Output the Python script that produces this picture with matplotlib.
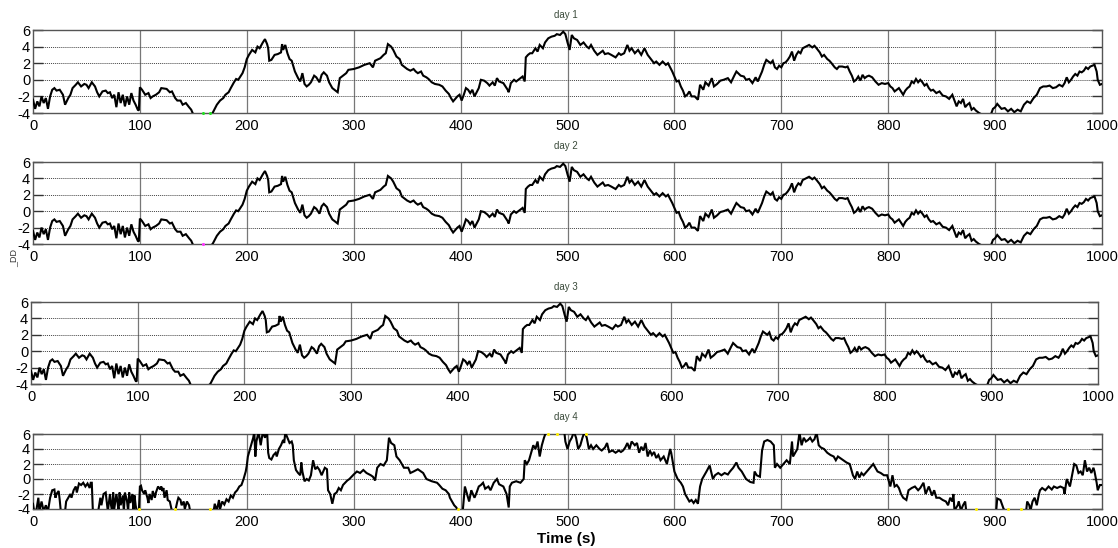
import numpy as np
import matplotlib
matplotlib.use("Agg")
import matplotlib.pyplot as plt

plt.rcParams['font.family'] = ['Liberation Sans', 'DejaVu Sans']

# ---------------- data ----------------
# days 1-3 share (visually) the same trace
t_day1 = [0, 2, 4, 6, 8, 10, 12, 14, 16, 18, 20, 22, 25, 28, 30, 33, 35, 37, 40, 42, 45, 48, 50, 52, 55, 58,
          60, 62, 65, 68, 70, 72, 74, 76, 78, 80, 82, 84, 86, 88, 90, 92, 94, 96, 98, 99, 100, 102, 105, 108,
          110, 112, 115, 118, 120, 125, 128, 130, 133, 135, 138, 140, 143, 146, 148, 150, 155, 160, 165, 168,
          170, 172, 175, 178, 180, 183, 185, 188, 190, 192, 194, 196, 198, 200, 202, 205, 208, 210, 212, 215,
          217, 219, 220, 221, 223, 226, 229, 232, 233, 234, 236, 238, 240, 242, 245, 248, 250, 252, 254, 256,
          258, 260, 263, 265, 268, 270, 272, 275, 277, 280, 283, 285, 287, 290, 293, 295, 300, 305, 310, 315,
          318, 320, 325, 328, 330, 332, 335, 337, 340, 343, 345, 348, 350, 353, 356, 358, 360, 363, 365, 368,
          370, 373, 376, 380, 383, 386, 389, 391, 393, 395, 397, 399, 401, 403, 405, 407, 409, 411, 413, 415,
          417, 419, 422, 425, 427, 430, 432, 434, 436, 440, 442, 444, 445, 447, 450, 452, 455, 458, 460, 461,
          463, 465, 467, 470, 472, 474, 477, 479, 482, 485, 488, 490, 493, 496, 498, 500, 502, 504, 506, 509,
          512, 515, 518, 520, 522, 525, 528, 530, 533, 535, 538, 541, 545, 548, 550, 553, 556, 558, 560, 563,
          566, 569, 572, 575, 578, 581, 583, 586, 589, 592, 594, 596, 598, 600, 602, 604, 606, 608, 610, 612,
          614, 616, 619, 622, 624, 627, 629, 632, 635, 637, 640, 643, 646, 650, 653, 656, 658, 662, 665, 667,
          670, 673, 676, 678, 680, 682, 684, 686, 688, 690, 692, 694, 696, 698, 700, 702, 704, 706, 708, 710,
          712, 714, 716, 718, 720, 723, 726, 729, 731, 733, 736, 738, 740, 743, 745, 747, 750, 752, 754, 757,
          760, 762, 764, 766, 768, 770, 772, 774, 776, 778, 780, 782, 785, 788, 791, 794, 797, 800, 802, 804,
          806, 808, 810, 812, 814, 816, 818, 820, 822, 824, 826, 828, 830, 832, 834, 836, 838, 840, 842, 845,
          848, 851, 854, 857, 860, 862, 864, 866, 868, 870, 872, 874, 876, 878, 880, 882, 885, 888, 890, 893,
          896, 898, 900, 902, 904, 906, 909, 912, 915, 918, 921, 924, 927, 930, 933, 936, 939, 942, 945, 948,
          951, 954, 957, 960, 963, 965, 967, 969, 971, 973, 975, 977, 979, 981, 983, 985, 987, 989, 991, 993,
          995, 996, 998, 1000]
v_day1 = [-2.4, -3.5, -2.6, -3.2, -2.0, -2.8, -2.2, -3.5, -2.0, -1.2, -1.0, -1.3, -1.2, -1.8, -3.0, -2.2, -1.8,
          -1.0, -0.6, -0.3, -0.8, -0.5, -0.6, -1.0, -0.3, -0.8, -1.5, -2.0, -1.4, -1.3, -1.6, -1.5, -2.2, -1.8,
          -3.3, -1.5, -2.8, -1.8, -3.2, -2.0, -3.0, -1.6, -2.5, -3.0, -3.6, -3.7, -0.9, -1.2, -1.8, -1.6, -2.2,
          -2.0, -1.8, -1.5, -1.0, -1.1, -1.5, -1.4, -2.2, -2.5, -2.5, -3.0, -2.8, -3.3, -3.6, -4.2, -4.6, -4.5,
          -4.3, -4.0, -3.5, -3.0, -2.5, -2.2, -1.8, -1.5, -1.0, -0.3, 0.1, 0.0, 0.4, 0.8, 1.5, 2.5, 3.0, 3.6,
          3.3, 4.0, 3.8, 4.5, 4.9, 4.3, 3.8, 2.3, 2.4, 3.0, 3.1, 3.3, 4.3, 3.6, 4.2, 3.2, 2.5, 2.3, 1.0, 0.2,
          -0.2, 0.8, -0.5, -0.8, -0.6, -0.3, 0.5, 0.3, -0.3, 0.6, 0.9, 0.5, -0.3, -1.0, -1.3, -1.5, 0.2, 0.5,
          0.8, 1.2, 1.3, 1.5, 1.8, 2.0, 1.5, 2.3, 2.6, 3.0, 3.2, 4.3, 4.0, 3.6, 2.8, 2.5, 1.8, 1.5, 1.3, 1.1,
          1.3, 1.0, 0.8, 1.0, 0.5, 0.3, 0.1, -0.3, -0.5, -0.6, -0.8, -1.3, -1.7, -2.2, -2.6, -2.3, -2.0, -1.8,
          -2.5, -1.8, -1.0, -1.2, -1.6, -1.2, -2.0, -1.5, -1.0, 0.0, -0.1, -0.4, -0.7, -0.3, -0.7, 0.2, -0.2,
          -0.4, -0.8, -1.2, -1.5, -0.4, 0.0, -0.2, 0.1, 0.4, -0.2, 2.7, 3.0, 3.2, 3.2, 3.8, 3.4, 4.2, 3.8, 4.5,
          5.0, 5.2, 5.3, 5.5, 5.4, 5.8, 5.5, 4.5, 3.6, 5.4, 5.0, 4.8, 4.2, 4.5, 4.0, 3.8, 4.2, 3.5, 3.0, 3.2,
          3.5, 3.1, 3.2, 3.0, 2.7, 3.2, 3.0, 3.2, 4.2, 3.5, 3.8, 3.2, 3.6, 3.0, 3.8, 3.0, 2.5, 2.0, 2.2, 1.8,
          2.2, 1.8, 2.0, 1.5, 1.0, 0.4, -0.2, -0.1, -0.8, -1.3, -2.0, -1.8, -1.4, -2.0, -2.0, -2.4, -0.6, -1.2,
          -0.3, -0.7, 0.2, -0.8, -0.5, -0.1, 0.0, 0.2, -0.3, 0.5, 1.0, 0.5, 0.4, 0.0, 0.1, -0.4, 0.3, -0.2,
          0.4, 1.0, 1.8, 2.4, 2.2, 2.0, 2.3, 1.5, 1.3, 1.7, 1.5, 2.0, 2.1, 2.4, 2.8, 3.4, 2.3, 3.0, 3.4, 3.2,
          3.8, 4.0, 4.2, 3.9, 4.1, 3.8, 3.3, 2.8, 3.0, 2.5, 2.3, 2.0, 1.5, 1.3, 1.6, 1.6, 1.5, 1.6, 1.0, 0.5,
          -0.2, 0.0, 0.4, -0.1, 0.6, 0.2, 0.4, 0.5, 0.3, -0.2, -0.6, -0.4, -0.5, -0.4, -0.8, -1.0, -1.4, -1.2,
          -1.0, -1.4, -1.8, -1.3, -1.0, -0.8, -0.2, -0.4, 0.1, -0.3, 0.0, -0.3, -0.7, -0.5, -1.0, -1.3, -1.2,
          -1.6, -1.4, -1.9, -2.0, -2.3, -1.8, -2.5, -3.2, -2.6, -2.8, -2.3, -3.3, -3.0, -2.8, -3.6, -3.4, -3.7,
          -4.0, -4.2, -4.5, -4.5, -4.2, -3.5, -3.3, -2.9, -3.2, -3.5, -3.4, -3.8, -3.5, -3.9, -3.6, -3.8, -3.0,
          -2.6, -2.8, -2.2, -1.8, -1.0, -0.8, -0.8, -0.7, -1.0, -0.9, -0.6, -0.8, -0.4, 0.3, -0.3, 0.0, 0.4,
          0.7, 0.5, 1.0, 0.9, 1.1, 1.5, 1.3, 1.6, 1.7, 1.8, 1.0, 0.0, -0.6, -0.5]

t_day4 = [0, 1, 3, 5, 6, 8, 10, 12, 14, 16, 18, 20, 21, 22, 24, 25, 26, 30, 31, 33, 35, 36, 38, 40, 41, 43,
          45, 47, 49, 51, 53, 54, 55, 56, 61, 63, 64, 66, 68, 69, 70, 72, 73, 74, 75, 76, 78, 79, 80, 81, 82,
          84, 85, 86, 88, 89, 90, 91, 93, 94, 95, 96, 97, 99, 100, 101, 102, 104, 105, 107, 108, 109, 111, 112,
          114, 115, 117, 119, 120, 121, 122, 123, 125, 126, 128, 130, 133, 135, 136, 138, 139, 141, 142, 144,
          146, 147, 169, 170, 172, 174, 175, 177, 179, 181, 183, 185, 187, 189, 191, 193, 195, 197, 199, 200,
          201, 203, 205, 206, 207, 208, 209, 211, 213, 215, 217, 219, 220, 221, 223, 225, 227, 228, 230, 232,
          234, 235, 236, 238, 240, 242, 243, 244, 246, 248, 250, 251, 252, 254, 256, 258, 260, 262, 264, 266,
          268, 270, 273, 275, 276, 278, 280, 282, 284, 286, 288, 290, 292, 294, 296, 298, 300, 303, 306, 309,
          312, 316, 318, 320, 322, 325, 328, 331, 333, 335, 338, 340, 343, 345, 347, 351, 353, 356, 360, 365,
          368, 373, 378, 380, 383, 386, 389, 390, 392, 394, 396, 398, 402, 404, 406, 408, 410, 413, 415, 417,
          419, 421, 423, 426, 428, 431, 434, 436, 440, 443, 445, 446, 448, 452, 456, 459, 460, 462, 464, 466,
          468, 470, 472, 474, 476, 478, 480, 497, 498, 500, 502, 504, 506, 508, 510, 512, 514, 516, 518, 520,
          522, 524, 527, 530, 532, 535, 537, 539, 542, 545, 548, 550, 552, 554, 556, 558, 560, 563, 565, 567,
          569, 571, 573, 575, 577, 579, 581, 583, 585, 587, 590, 593, 596, 597, 600, 603, 606, 608, 610, 612,
          614, 616, 618, 620, 622, 624, 626, 628, 630, 633, 636, 638, 641, 644, 647, 650, 652, 655, 658, 660,
          663, 665, 667, 669, 671, 674, 675, 677, 680, 682, 684, 687, 690, 693, 694, 696, 699, 702, 705, 708,
          710, 711, 713, 715, 717, 719, 721, 723, 725, 727, 729, 731, 733, 735, 737, 740, 743, 746, 749, 751,
          753, 755, 758, 761, 764, 767, 769, 771, 773, 775, 777, 780, 783, 786, 788, 790, 793, 796, 799, 800,
          802, 804, 806, 808, 810, 812, 814, 817, 819, 822, 825, 828, 830, 833, 835, 838, 841, 843, 845, 848,
          851, 854, 856, 858, 860, 861, 862, 865, 866, 868, 870, 872, 873, 901, 902, 905, 908, 910, 929, 930,
          932, 933, 935, 937, 939, 941, 942, 944, 947, 950, 953, 955, 958, 961, 964, 965, 967, 970, 972, 974,
          976, 978, 980, 982, 984, 986, 988, 990, 992, 993, 995, 996, 998, 1000]
v_day4 = [-3.3, -4.3, -4.3, -2.5, -4.3, -3.0, -4.3, -3.5, -4.3, -2.5, -1.5, -1.4, -2.5, -2.0, -1.6, -2.8, -4.3,
          -4.3, -3.0, -2.5, -2.0, -2.5, -1.5, -1.0, -1.8, -0.6, -0.8, -0.5, -1.0, -0.6, -1.2, -0.5, -0.5, -4.3,
          -4.3, -2.5, -3.5, -2.0, -1.8, -3.0, -4.3, -2.0, -3.5, -4.3, -1.8, -4.0, -2.0, -3.0, -4.3, -1.8, -3.5,
          -2.2, -4.3, -1.8, -3.0, -4.3, -1.8, -3.2, -2.0, -4.3, -2.2, -3.5, -4.3, -4.3, -1.0, -0.9, -1.5, -2.0,
          -1.5, -2.5, -3.2, -2.0, -2.8, -1.6, -2.5, -1.8, -1.0, -1.4, -1.0, -1.6, -1.2, -2.5, -1.5, -2.8, -3.0,
          -4.3, -4.3, -3.0, -2.5, -2.8, -3.5, -3.0, -4.0, -3.0, -3.5, -4.3, -4.3, -3.3, -4.2, -2.8, -4.0, -3.0,
          -3.4, -2.7, -3.0, -2.2, -2.5, -1.8, -1.5, -1.0, -0.8, 0.0, 1.0, 1.8, 3.0, 4.0, 5.0, 5.5, 6.3, 3.0,
          5.0, 6.3, 4.5, 6.3, 5.5, 6.3, 3.5, 2.8, 2.6, 3.2, 3.5, 3.0, 4.0, 4.5, 5.2, 4.8, 6.2, 5.5, 4.8, 5.0,
          4.5, 2.5, 1.2, 0.8, 0.5, 2.2, 1.0, -0.3, 0.0, -0.2, 0.5, 2.5, 1.3, 1.6, 1.2, 0.5, 1.5, 1.3, -1.5,
          -2.0, -3.3, -2.0, -1.8, -1.2, -1.5, -0.8, -0.5, -0.2, 0.0, 0.3, 0.6, 1.0, 0.8, 1.2, 0.8, 0.5, 0.3,
          -0.2, 1.5, 2.0, 1.8, 2.5, 5.5, 4.8, 4.5, 3.0, 2.5, 2.0, 1.5, 1.5, 0.8, 1.0, 1.3, 0.8, 0.0, -0.3,
          -0.5, -0.8, -1.3, -1.5, -2.0, -2.5, -3.0, -3.5, -3.8, -4.3, -4.3, -1.0, -2.0, -3.0, -1.5, -2.5, -1.8,
          -1.0, -0.8, -0.5, -1.3, -1.0, -1.5, -0.5, 0.0, -0.7, -1.0, -2.0, -3.8, -1.0, -0.5, -0.3, -0.5, 0.0,
          2.5, 2.0, 2.5, 3.5, 4.5, 4.0, 5.0, 3.0, 4.5, 5.5, 6.3, 6.3, 5.0, 4.0, 5.0, 5.5, 6.3, 5.5, 4.0, 4.5,
          5.5, 6.3, 5.5, 4.0, 4.5, 4.0, 4.5, 4.0, 3.8, 4.2, 4.8, 3.6, 3.8, 3.5, 3.8, 3.6, 3.8, 4.2, 4.8, 4.0,
          5.0, 4.5, 4.8, 3.5, 4.3, 3.8, 4.8, 3.0, 3.8, 3.2, 3.6, 2.8, 3.2, 2.5, 3.0, 2.0, 4.0, 3.5, 1.0, 0.0,
          -0.5, -1.0, -2.0, -2.5, -3.0, -2.8, -3.2, -2.8, -3.3, -1.0, 0.0, 0.5, 1.0, 1.8, 0.0, 0.5, 0.8, 0.5,
          0.8, 0.6, 1.0, 1.5, 2.2, 1.5, 1.0, 0.5, 0.0, -0.2, -0.4, -0.5, 1.0, 0.5, 0.3, 3.8, 5.0, 5.2, 5.0,
          4.5, 1.5, 2.0, 1.5, 2.0, 2.5, 2.0, 5.0, 3.0, 3.5, 4.0, 6.2, 4.5, 5.5, 5.0, 5.2, 5.5, 5.0, 5.3, 6.2,
          4.5, 4.2, 4.0, 3.5, 3.2, 3.0, 2.5, 3.0, 2.8, 2.5, 2.2, 2.0, 0.5, 0.0, 1.0, 0.2, 0.8, 0.5, 1.0, 1.5,
          2.0, 1.5, 1.0, 0.8, 0.5, 0.5, 0.0, -1.0, 0.5, -1.0, -0.8, -1.2, -2.0, -2.5, -2.8, -1.5, -1.2, -1.0,
          -1.5, -1.2, -0.5, -2.0, -1.0, -2.2, -1.5, -2.5, -2.5, -2.8, -3.0, -3.5, -2.5, -3.0, -2.0, -4.2, -3.5,
          -3.0, -4.2, -3.5, -3.0, -4.3, -4.3, -2.6, -2.8, -4.0, -4.3, -4.3, -3.0, -3.5, -4.3, -3.0, -2.5, -3.5,
          -2.0, -1.5, -1.2, -1.5, -1.0, -1.4, -1.0, -1.2, -1.0, -1.2, -2.0, 0.0, -1.0, 0.5, 2.0, 1.8, 0.8, 1.0,
          0.5, 2.5, 1.0, 1.5, 0.8, 1.5, 1.0, -0.5, -1.5, -0.8, -0.8]

# small coloured markers visible at the axis limits
mark1_t, mark1_v = [159, 166], [-4, -4]
mark2_t, mark2_v = [159], [-4]
mark4_t = [99, 133, 166, 398, 482, 490, 517, 882, 912, 924]
mark4_v = [-4, -4, -4, -4, 6, 6, 6, -4, -4, -4]

titles = ["day 1", "day 2", "day 3", "day 4"]
xticks = list(range(0, 1001, 100))
yticks = [-4, -2, 0, 2, 4, 6]

# ---------------- layout ----------------
W, H = 1118, 548
fig = plt.figure(figsize=(W / 100, H / 100), dpi=100)


def rect(l, r, top, bot):
    return [l / W, 1 - bot / H, (r - l) / W, (bot - top) / H]


rects = [rect(33, 1102, 30, 113), rect(33, 1102, 162, 244),
         rect(31, 1098, 302, 384), rect(33, 1102, 434, 509)]
series = [(t_day1, v_day1), (t_day1, v_day1), (t_day1, v_day1), (t_day4, v_day4)]
marks = [(mark1_t, mark1_v, '#22dd22'), (mark2_t, mark2_v, '#ff33ff'), None,
         (mark4_t, mark4_v, '#ffee00')]
title_y = [15, 146, 287, 417]

for i in range(4):
    ax = fig.add_axes(rects[i])
    t, v = series[i]
    ax.plot(t, v, color='black', lw=1.5, solid_joinstyle='miter', zorder=3)
    if marks[i] is not None:
        mt, mv, mc = marks[i]
        ax.plot(mt, mv, linestyle='none', marker='o', ms=2.2, color=mc, mec='none',
                clip_on=False, zorder=4)
    ax.set_xlim(0, 1000)
    ax.set_ylim(-4, 6)
    ax.set_xticks(xticks)
    ax.set_yticks(yticks)
    ax.set_xticklabels([str(x) for x in xticks], fontsize=10.5)
    ax.set_yticklabels([str(y) for y in yticks], fontsize=10.5)
    for x in xticks[1:-1]:
        ax.axvline(x, color='#777777', lw=0.9, zorder=1)
    for y in [-2, 0, 2, 4]:
        ax.axhline(y, color='#444444', lw=0.7, ls=(0, (1, 1)), zorder=1)
    ax.tick_params(axis='y', direction='in', length=7, width=1.0, color='#333333',
                   right=True, pad=2)
    ax.tick_params(axis='x', pad=4, length=0)
    for s in ax.spines.values():
        s.set_color('#555555')
        s.set_linewidth(1.0)
    fig.text(566 / W, 1 - title_y[i] / H, titles[i], fontsize=7, color='#3a4a3a',
             ha='center', va='center')

fig.text(14 / W, 1 - 258 / H, "_DD", rotation=90, fontsize=6.5, color='#333333',
         ha='center', va='center')
fig.text(566 / W, 1 - 539 / H, "Time (s)", fontsize=11, fontweight='bold',
         ha='center', va='center')

fig.savefig("out.png", dpi=100)
